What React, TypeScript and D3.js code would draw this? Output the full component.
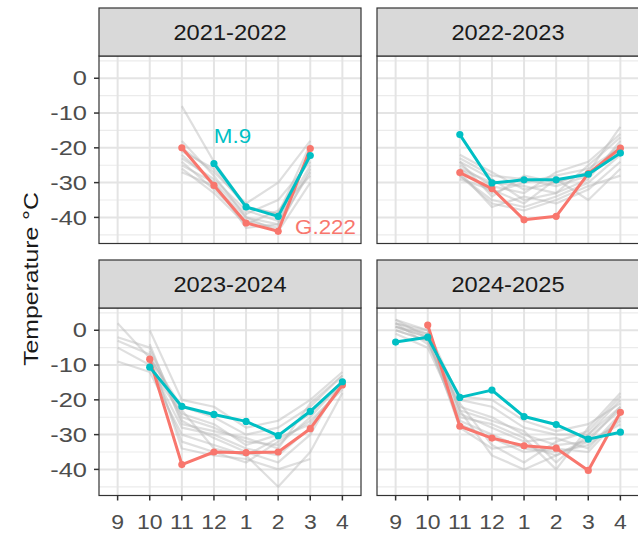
import React from "react";
import * as d3 from "d3";

const months = ["9", "10", "11", "12", "1", "2", "3", "4"];
const seasons = ["2021-2022", "2022-2023", "2023-2024", "2024-2025"];
const yTicks = [0, -10, -20, -30, -40];
const yMinor = [5, -5, -15, -25, -35, -45];

type V = number | null;
const g222: V[][] = [
  [null, null, -20, -30.8, -41.6, -44, -20.2, null],
  [null, null, -27.1, -31.7, -40.7, -39.7, -27.4, -20.1],
  [null, -8.3, -38.6, -35, -35.2, -35, -28.3, -15.7],
  [null, 1.5, -27.6, -31, -33.2, -33.9, -40.3, -23.6],
];
const m9: V[][] = [
  [null, null, null, -24.5, -37, -39.7, -22.2, null],
  [null, null, -16.2, -30.1, -29.2, -29.2, -27.6, -21.5],
  [null, -10.6, -21.9, -24.2, -26.2, -30.3, -23.3, -14.8],
  [-3.4, -2, -19.3, -17.2, -24.8, -27.1, -31.3, -29.3],
];
const others1: V[][] = [
  [null, null, -8, -24, -37, -39, -19, null],
  [null, null, -18, -28, -40, -42, -21, null],
  [null, null, -22, -30, -39, -35, -24, null],
  [null, null, -24, -32, -41, -43, -26, null],
  [null, null, -26, -33, -42, -38, -28, null],
  [null, null, -20, -27, -36, -30, -18, null],
  [null, null, -23, -29, -38, -41, -25, null],
  [null, null, -27, -31, -40, -44, -30, null],
  [null, null, -21, -26, -37, -39, -22, null],
  [null, null, -25, -30, -43, -42, -27, null],
];
const others2: V[][] = [
  [null, null, -22, -27, -32, -30, -27, -14],
  [null, null, -24, -29, -35, -33, -29, -18],
  [null, null, -26, -33, -30, -28, -26, -20],
  [null, null, -28, -35, -37, -34, -30, -22],
  [null, null, -25, -31, -33, -27, -24, -16],
  [null, null, -27, -37, -34, -36, -32, -24],
  [null, null, -23, -28, -29, -31, -28, -19],
  [null, null, -29, -32, -36, -29, -35, -26],
  [null, null, -26, -30, -31, -33, -25, -17],
  [null, null, -24, -34, -28, -30, -27, -21],
  [null, null, -28, -36, -38, -35, -31, -28],
];
const others3: V[][] = [
  [2, -8, -22, -25, -30, -28, -22, -13],
  [-2, -5, -25, -28, -32, -33, -25, -15],
  [-5, -10, -28, -30, -34, -36, -28, -16],
  [-9, -12, -30, -33, -36, -45, -35, -18],
  [null, 0, -20, -22, -28, -26, -20, -12],
  [null, -6, -26, -31, -35, -38, -30, -14],
  [null, -9, -32, -35, -38, -32, -26, -17],
  [null, -11, -24, -27, -33, -30, -24, -15],
  [-3, -7, -34, -36, -37, -40, -37, null],
  [null, -4, -27, -29, -31, -34, -21, -13],
  [null, -8, -23, -34, -36, -31, -27, -16],
];
const others4: V[][] = [
  [3, 0, -20, -22, -28, -30, -30, -20],
  [2, -1, -22, -25, -30, -33, -32, -22],
  [1, -2, -24, -28, -32, -31, -34, -24],
  [0, -3, -26, -30, -34, -35, -33, -26],
  [2, -4, -21, -33, -38, -32, -29, -19],
  [1, -1, -23, -36, -40, -36, -31, -23],
  [-1, -5, -25, -27, -31, -40, -28, -18],
  [3, -2, -19, -20, -26, -29, -27, -21],
  [0, -3, -27, -31, -35, -34, -35, -25],
  [2, 0, -23, -26, -29, -38, -30, -22],
  [1, -2, -28, -34, -33, -36, -32, -27],
];
const others = [others1, others2, others3, others4];

const RED = "#F8766D";
const TEAL = "#00BFC4";
const FONT = "'Liberation Sans', Arial, sans-serif";

const W = 638, H = 533;
const colX = [99, 377];
const panelW = 262;
const rowStripTop = [8, 260];
const stripH = 48;
const panelH = 187.5;

function SText(props: {
  x: number; y: number; sx?: number; rot?: number; anchor?: string;
  size: number; fill: string; children: React.ReactNode; dy?: string;
}) {
  const { x, y, sx = 1, rot = 0, anchor = "middle", size, fill, children, dy } = props;
  return (
    <text
      transform={`translate(${x},${y}) rotate(${rot}) scale(${sx},1)`}
      textAnchor={anchor}
      fontSize={size}
      fontFamily={FONT}
      fill={fill}
      dy={dy}
    >
      {children}
    </text>
  );
}

function Panel({ idx }: { idx: number }) {
  const col = idx % 2;
  const row = Math.floor(idx / 2);
  const left = colX[col];
  const stripTop = rowStripTop[row];
  const top = stripTop + stripH;
  const x = d3.scalePoint<string>().domain(months).range([left, left + panelW]).padding(0.58);
  const y = d3.scaleLinear().domain([-47.5, 6.4]).range([top + panelH, top]);
  const line = d3
    .line<V>()
    .defined((d) => d !== null)
    .x((_, i) => x(months[i]) as number)
    .y((d) => y(d as number));
  const clipId = `clip${idx}`;
  const pts = (arr: V[]) =>
    arr.map((v, i) => (v === null ? null : { cx: x(months[i]) as number, cy: y(v) })).filter(Boolean) as { cx: number; cy: number }[];
  return (
    <g>
      <defs>
        <clipPath id={clipId}>
          <rect x={left} y={top} width={panelW} height={panelH} />
        </clipPath>
      </defs>
      <rect x={left} y={top} width={panelW} height={panelH} fill="#fff" />
      <g clipPath={`url(#${clipId})`}>
        {yMinor.map((t) => (
          <line key={"mi" + t} x1={left} x2={left + panelW} y1={y(t)} y2={y(t)} stroke="#ebebeb" strokeWidth={1.2} />
        ))}
        {yTicks.map((t) => (
          <line key={"ma" + t} x1={left} x2={left + panelW} y1={y(t)} y2={y(t)} stroke="#e4e4e4" strokeWidth={2} />
        ))}
        {months.map((m) => (
          <line key={"vx" + m} x1={x(m)} x2={x(m)} y1={top} y2={top + panelH} stroke="#e4e4e4" strokeWidth={2} />
        ))}
        {others[idx].map((s, i) => (
          <path key={"o" + i} d={line(s) || ""} fill="none" stroke="#b8b8b8" strokeOpacity={0.45} strokeWidth={2.2} strokeLinejoin="round" />
        ))}
        <path d={line(g222[idx]) || ""} fill="none" stroke={RED} strokeWidth={3} strokeLinejoin="round" />
        {pts(g222[idx]).map((p, i) => (
          <circle key={"r" + i} cx={p.cx} cy={p.cy} r={3.6} fill={RED} />
        ))}
        <path d={line(m9[idx]) || ""} fill="none" stroke={TEAL} strokeWidth={3} strokeLinejoin="round" />
        {pts(m9[idx]).map((p, i) => (
          <circle key={"t" + i} cx={p.cx} cy={p.cy} r={3.6} fill={TEAL} />
        ))}
      </g>
      <rect x={left} y={top} width={panelW} height={panelH} fill="none" stroke="#333" strokeWidth={1.2} />
      <rect x={left} y={stripTop} width={panelW} height={stripH} fill="#d9d9d9" stroke="#333" strokeWidth={1.2} />
      <SText x={left + panelW / 2} y={stripTop + stripH / 2} dy="0.36em" size={21.5} sx={1.1} fill="#1a1a1a">
        {seasons[idx]}
      </SText>
      {col === 0 &&
        yTicks.map((t) => (
          <g key={"yt" + t}>
            <line x1={left - 5} x2={left} y1={y(t)} y2={y(t)} stroke="#333" strokeWidth={1.5} />
            <SText x={left - 12} y={y(t)} dy="0.36em" anchor="end" size={20} sx={1.27} fill="#4d4d4d">
              {String(t)}
            </SText>
          </g>
        ))}
      {row === 1 &&
        months.map((m) => (
          <g key={"xt" + m}>
            <line x1={x(m)} x2={x(m)} y1={top + panelH} y2={top + panelH + 5} stroke="#333" strokeWidth={1.5} />
            <SText x={x(m) as number} y={529} size={20} sx={1.15} fill="#4d4d4d">
              {m}
            </SText>
          </g>
        ))}
      {idx === 0 && (
        <>
          <SText x={232.5} y={142.5} size={20} sx={1.12} fill={TEAL}>M.9</SText>
          <SText x={325.5} y={234} size={20} sx={1.12} fill={RED}>G.222</SText>
        </>
      )}
    </g>
  );
}

export default function App() {
  return (
    <svg width={W} height={H} style={{ position: "absolute", left: 0, top: 0, background: "#fff" }}>
      <rect width={W} height={H} fill="#fff" />
      {[0, 1, 2, 3].map((i) => (
        <Panel key={i} idx={i} />
      ))}
      <SText x={38} y={279} rot={-90} size={21} sx={1.18} fill="#1a1a1a">
        Temperature °C
      </SText>
    </svg>
  );
}
